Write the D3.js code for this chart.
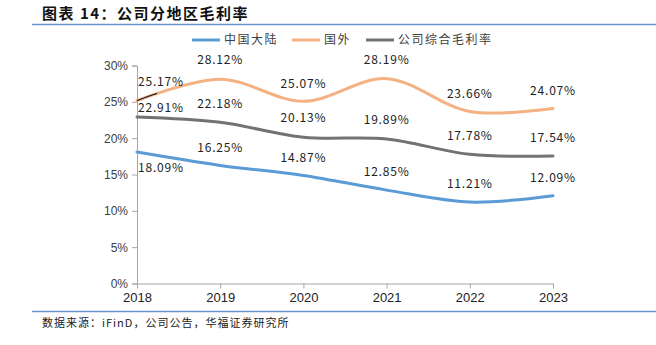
<!DOCTYPE html>
<html>
<head>
<meta charset="utf-8">
<script src="https://cdn.jsdelivr.net/npm/d3@7"></script>
<style>
  body { margin: 0; background: #fff; }
  svg { display: block; }
</style>
</head>
<body>
<svg width="656" height="345"></svg>
<script>
// gross margin by region, %
const years = ['2018', '2019', '2020', '2021', '2022', '2023'];
const domestic = [18.09, 16.25, 14.87, 12.85, 11.21, 12.09];
const overseas = [25.17, 28.12, 25.07, 28.19, 23.66, 24.07];
const overall = [22.91, 22.18, 20.13, 19.89, 17.78, 17.54];
const seriesNames = ['中国大陆', '国外', '公司综合毛利率'];
const yTicks = [0, 5, 10, 15, 20, 25, 30];

const svg = d3.select('svg');
const cjk = '"Noto Sans CJK SC", "Noto Sans", sans-serif';

const colors = ['#5b9bd5', '#f4b183', '#767171'];
const series = [domestic, overseas, overall];

// title and rules
svg.append('text')
    .attr('x', 42)
    .attr('y', 19)
    .style('font-family', cjk)
    .style('font-weight', '700')
    .style('font-size', '15px')
    .style('letter-spacing', '1.5px')
    .style('fill', '#111')
    .text('图表 14：公司分地区毛利率');

svg.append('line')
    .attr('x1', 32).attr('x2', 656)
    .attr('y1', 24.5).attr('y2', 24.5)
    .style('stroke', '#6f93cf')
    .style('stroke-width', 1.5);

svg.append('line')
    .attr('x1', 32).attr('x2', 656)
    .attr('y1', 311.5).attr('y2', 311.5)
    .style('stroke', '#6f93cf')
    .style('stroke-width', 1.5);

svg.append('text')
    .attr('x', 42)
    .attr('y', 327)
    .style('font-family', cjk)
    .style('font-size', '11px')
    .style('letter-spacing', '1px')
    .style('fill', '#222')
    .text('数据来源：iFinD，公司公告，华福证券研究所');

// scales
const x = d3.scalePoint().domain(years).range([137, 553]);
const y = d3.scaleLinear().domain([0, 30]).range([283.5, 65.5]);

// axes
const yAxis = svg.append('g')
    .attr('transform', 'translate(137,0)')
    .call(d3.axisLeft(y).tickValues(yTicks).tickSize(5).tickFormat(d => d + '%'));
yAxis.selectAll('text')
    .style('font-family', '"Liberation Sans", Arial, sans-serif')
    .style('font-size', '12px')
    .style('fill', '#404040')
    .attr('x', -9);

const xAxis = svg.append('g')
    .attr('transform', 'translate(0,283.5)')
    .call(d3.axisBottom(x).tickSize(5).tickSizeOuter(0));
xAxis.selectAll('text')
    .style('font-family', '"Liberation Sans", Arial, sans-serif')
    .style('font-size', '13px')
    .style('fill', '#222')
    .attr('y', 9);

svg.selectAll('.domain, .tick line')
    .style('stroke', '#a6a6a6')
    .style('stroke-width', 1);
yAxis.selectAll('.tick line').attr('x2', -5).attr('x1', 0);

// smoothed lines
const line = d3.line()
    .x((d, i) => x(years[i]))
    .y(d => y(d))
    .curve(d3.curveCatmullRom.alpha(0.5));

series.forEach((vals, k) => {
    svg.append('path')
        .datum(vals)
        .attr('d', line)
        .style('fill', 'none')
        .style('stroke', colors[k])
        .style('stroke-width', 3)
        .style('stroke-linecap', 'round');
});

// short dark leader stroke over the start of the overseas line
svg.append('clipPath')
    .attr('id', 'lead')
    .append('rect')
    .attr('x', 137).attr('y', 80).attr('width', 20).attr('height', 30);
svg.append('path')
    .datum(overseas)
    .attr('d', line)
    .attr('clip-path', 'url(#lead)')
    .style('fill', 'none')
    .style('stroke', '#222')
    .style('stroke-width', 1.2);

// data labels
const labelDy = [
    [16, -18, -18, -18, -18, -18],
    [-19, -19, -18, -19, -18, -18],
    [-9, -19, -19, -19, -18, -18]
];
series.forEach((vals, k) => {
    svg.append('g')
        .selectAll('text')
        .data(vals)
        .enter()
        .append('text')
        .attr('x', (d, i) => i === 0 ? x(years[i]) + 1 : x(years[i]))
        .attr('y', (d, i) => y(d) + labelDy[k][i])
        .attr('dy', '0.35em')
        .style('text-anchor', (d, i) => i === 0 ? 'start' : 'middle')
        .style('font-family', cjk)
        .style('font-size', '12px')
        .style('letter-spacing', '0.8px')
        .style('fill', '#222')
        .text(d => d.toFixed(2) + '%');
});

// legend
const legendX = [192, 292, 366];
const legend = svg.append('g')
    .selectAll('g')
    .data(seriesNames)
    .enter()
    .append('g')
    .attr('transform', (d, i) => `translate(${legendX[i]},40)`);

legend.append('line')
    .attr('x1', 0).attr('x2', 28)
    .style('stroke', (d, i) => colors[i])
    .style('stroke-width', 3);

legend.append('text')
    .attr('x', 32)
    .attr('dy', '0.35em')
    .style('font-family', cjk)
    .style('font-size', '12px')
    .style('letter-spacing', '1.5px')
    .style('fill', '#404040')
    .text(d => d);
</script>
</body>
</html>
